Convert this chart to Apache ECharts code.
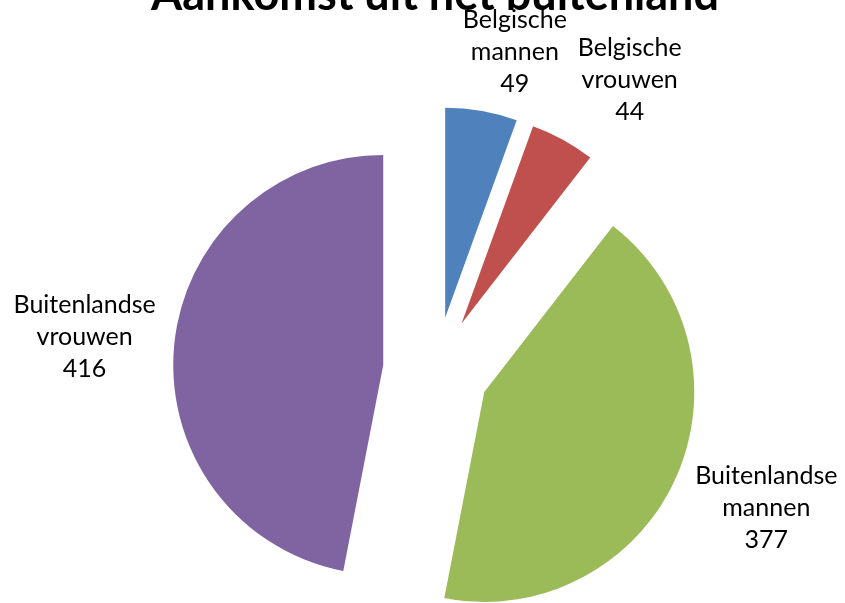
<!DOCTYPE html>
<html><head><meta charset="utf-8">
<script src="https://cdn.jsdelivr.net/npm/echarts@6/dist/echarts.min.js"></script>
<style>html,body{margin:0;padding:0;background:#fff}#c{width:845px;height:603px}</style>
</head><body><div id="c"></div>
<script>
const titleText = 'Aankomst uit het buitenland';
const categories = ['Belgische\nmannen', 'Belgische\nvrouwen', 'Buitenlandse\nmannen', 'Buitenlandse\nvrouwen'];
const values = [49, 44, 377, 416];
const colors = ['#4F81BD', '#C0504D', '#9BBB59', '#8064A2'];
// label distances (style only) to mimic the original label placement
const labelLen = [60, 68, 70, 85];
const labelLen2 = [18, 29, 22, 0];

const chart = echarts.init(document.getElementById('c'));
chart.setOption({
  animation: false,
  title: {
    text: titleText, left: 430, textAlign: 'center', top: -32, z: 1,
    textStyle: {fontFamily: 'Lato', fontWeight: 'bold', fontSize: 45, color: '#000'}
  },
  series: [{
    type: 'pie',
    z: 5,
    center: [436, 370],
    radius: 210,
    startAngle: 90,
    clockwise: true,
    selectedMode: 'multiple',
    selectedOffset: 53,
    avoidLabelOverlap: false,
    emphasis: {disabled: true},
    label: {
      show: true, position: 'outside',
      formatter: '{b}\n{c}',
      fontFamily: 'Lato', fontSize: 25, lineHeight: 32, color: '#000'
    },
    labelLine: {show: false, length: 85, length2: 0},
    labelLayout: function () {
      return {align: 'center', verticalAlign: 'middle'};
    },
    data: categories.map((c, i) => ({
      name: c, value: values[i], selected: true,
      itemStyle: {color: colors[i]},
      labelLine: {show: false, length: labelLen[i], length2: labelLen2[i]}
    }))
  }]
});
</script></body></html>
